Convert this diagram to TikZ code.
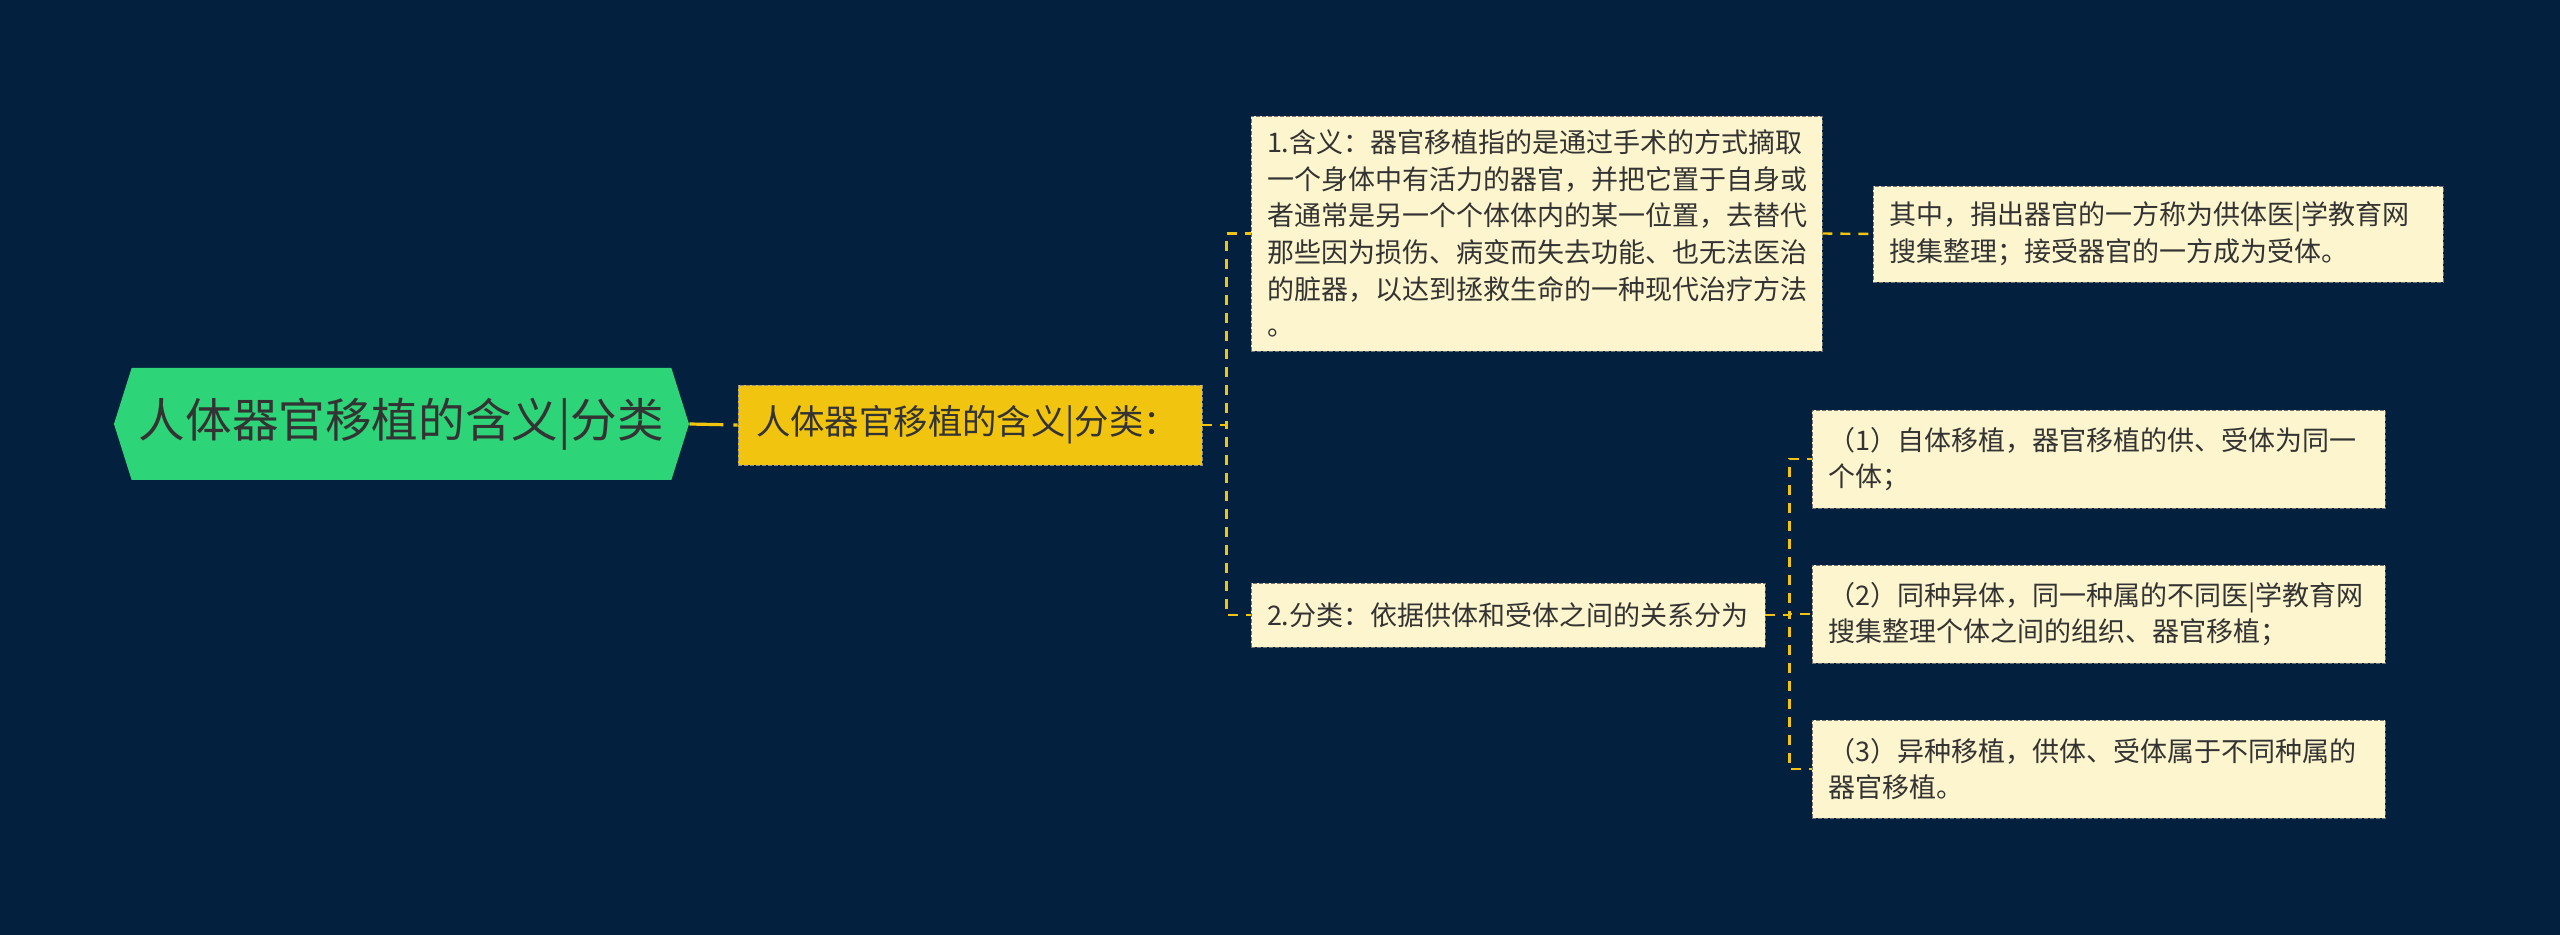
\documentclass[tikz,border=0pt]{standalone}
\usepackage{fontspec}
\setmainfont{Noto Sans CJK SC}
\usetikzlibrary{positioning,shapes.symbols}

\definecolor{bgnavy}{RGB}{3,33,63}
\definecolor{rootgreen}{RGB}{46,212,120}
\definecolor{mainyellow}{RGB}{241,196,15}
\definecolor{leafcream}{RGB}{253,245,206}
\definecolor{inkgray}{RGB}{51,51,51}

\tikzset{
  rootnode/.style={shape=signal, signal to=west and east, signal pointer angle=145,
    fill=rootgreen, text=inkgray, inner sep=0pt,
    minimum width=287.5pt, minimum height=56pt,
    font={\fontsize{23.3pt}{28pt}\selectfont}},
  topicnode/.style={draw=black!45, dashed, dash pattern=on 2pt off 1pt, fill=mainyellow,
    text=inkgray, align=left, inner xsep=9pt, inner ysep=0pt, text width=214pt,
    minimum height=40pt, font={\fontsize{17.2pt}{20pt}\selectfont}},
  leafnode/.style={draw=black!55, dashed, dash pattern=on 2pt off 1pt, fill=leafcream,
    text=inkgray, align=left, inner xsep=8pt, inner ysep=0pt,
    font={\fontsize{13.5pt}{18.3pt}\selectfont}},
  link/.style={draw=mainyellow, dash pattern=on 5pt off 4pt, line width=1.2pt},
  rootlink/.style={draw=mainyellow, dash pattern=on 17pt off 5pt, line width=1.6pt}
}

\begin{document}
\begin{tikzpicture}[x=0.5pt, y=-0.5pt]
  % canvas
  \fill[bgnavy] (0,0) rectangle (2560,935);
  \useasboundingbox (0,0) rectangle (2560,935);

  \node[rootnode] (root) at (401.5,424) {人体器官移植的含义|分类};
  \node[topicnode] (topic) at (970,425) {人体器官移植的含义|分类：};

  \node[leafnode, text width=269.5pt, minimum height=117.5pt] (meaning) at (1536.5,233.5)
    {1.含义：器官移植指的是通过手术的方式摘取\\一个身体中有活力的器官，并把它置于自身或\\者通常是另一个个体体内的某一位置，去替代\\那些因为损伤、病变而失去功能、也无法医治\\的脏器，以达到拯救生命的一种现代治疗方法\\。};
  \node[leafnode, text width=269pt, minimum height=48pt] (donor) at (2158,234)
    {其中，捐出器官的一方称为供体医|学教育网\\搜集整理；接受器官的一方成为受体。};

  \node[leafnode, text width=241pt, minimum height=32pt] (classes) at (1508,615)
    {2.分类：依据供体和受体之间的关系分为};
  \node[leafnode, text width=270.5pt, minimum height=49pt] (auto) at (2098.5,459)
    {（1）自体移植，器官移植的供、受体为同一\\个体；};
  \node[leafnode, text width=270.5pt, minimum height=49pt] (allo) at (2098.5,614)
    {（2）同种异体，同一种属的不同医|学教育网\\搜集整理个体之间的组织、器官移植；};
  \node[leafnode, text width=270.5pt, minimum height=49pt] (xeno) at (2098.5,769)
    {（3）异种移植，供体、受体属于不同种属的\\器官移植。};

  % connectors
  \path[rootlink] (root.east) -- (topic.west);
  \path[link] (topic.east) -- ++(24,0) |- (meaning.west);
  \path[link] (topic.east) -- ++(24,0) |- (classes.west);
  \path[link] (meaning.east) -- (donor.west);
  \foreach \kid in {auto,allo,xeno}
    \path[link] (classes.east) -- ++(24,0) |- (\kid.west);
\end{tikzpicture}
\end{document}
